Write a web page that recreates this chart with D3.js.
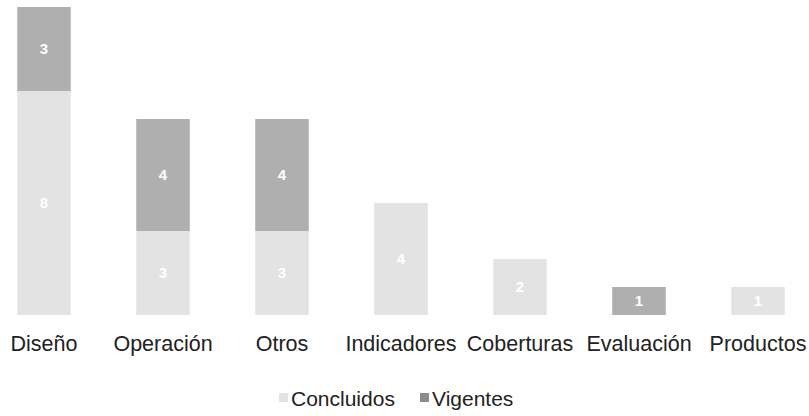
<!DOCTYPE html>
<html>
<head>
<meta charset="utf-8">
<script src="https://cdn.jsdelivr.net/npm/d3@7"></script>
<style>
  html, body { margin: 0; padding: 0; background: #fff; }
  svg { display: block; }
</style>
</head>
<body>
<svg id="chart" width="809" height="416"></svg>
<script>
// Project counts by category, split into finished and ongoing
const categories = ["Diseño", "Operación", "Otros", "Indicadores", "Coberturas", "Evaluación", "Productos"];
const concluidos = [8, 3, 3, 4, 2, 0, 1];
const vigentes   = [3, 4, 4, 0, 0, 1, 0];
const seriesNames = ["Concluidos", "Vigentes"];
const seriesColors = ["#e3e3e3", "#afafaf"];

const svg = d3.select("#chart");
const font = "'Liberation Sans', Arial, sans-serif";

const rows = categories.map((c, i) => ({ cat: c, Concluidos: concluidos[i], Vigentes: vigentes[i] }));
const stacked = d3.stack().keys(seriesNames)(rows);

const x = d3.scaleBand().domain(categories).range([-15.5, 817.5]).paddingInner(0.55).paddingOuter(0.275);
const y = d3.scaleLinear().domain([0, 11]).range([315, 7]);
const color = d3.scaleOrdinal().domain(seriesNames).range(seriesColors);

const layers = svg.append("g").selectAll("g")
  .data(stacked).join("g")
  .attr("fill", d => color(d.key));

layers.selectAll("rect")
  .data(d => d.map(v => ({ key: d.key, v })))
  .join("rect")
  .filter(d => d.v[1] - d.v[0] > 0)
  .attr("x", d => x(d.v.data.cat))
  .attr("width", x.bandwidth())
  .attr("y", d => y(d.v[1]))
  .attr("height", d => y(d.v[0]) - y(d.v[1]));

// value labels inside each segment
layers.selectAll("text")
  .data(d => d.map(v => ({ key: d.key, v })).filter(e => e.v[1] - e.v[0] > 0))
  .join("text")
  .attr("x", d => x(d.v.data.cat) + x.bandwidth() / 2)
  .attr("y", d => (y(d.v[0]) + y(d.v[1])) / 2)
  .attr("dy", "0.36em")
  .attr("text-anchor", "middle")
  .attr("fill", "#fff")
  .attr("font-family", font)
  .attr("font-weight", "bold")
  .attr("font-size", 15)
  .text(d => d.v[1] - d.v[0]);

// category axis
const axis = svg.append("g")
  .attr("transform", "translate(0,315)")
  .call(d3.axisBottom(x).tickSize(0).tickPadding(21));
axis.select(".domain").remove();
axis.selectAll("text")
  .attr("font-family", font)
  .attr("font-size", 21.5)
  .attr("fill", "#222");

// legend
const legend = svg.append("g").attr("font-family", font).attr("font-size", 21).attr("fill", "#222");
const legendItems = [{ name: "Concluidos", x: 279 }, { name: "Vigentes", x: 420 }];
legendItems.forEach(it => {
  legend.append("rect")
    .attr("x", it.x).attr("y", 393).attr("width", 9).attr("height", 9)
    .attr("fill", it.name === "Vigentes" ? "#8c8c8c" : color(it.name));
  legend.append("text")
    .attr("x", it.x + 12).attr("y", 406)
    .text(it.name);
});
</script>
</body>
</html>
